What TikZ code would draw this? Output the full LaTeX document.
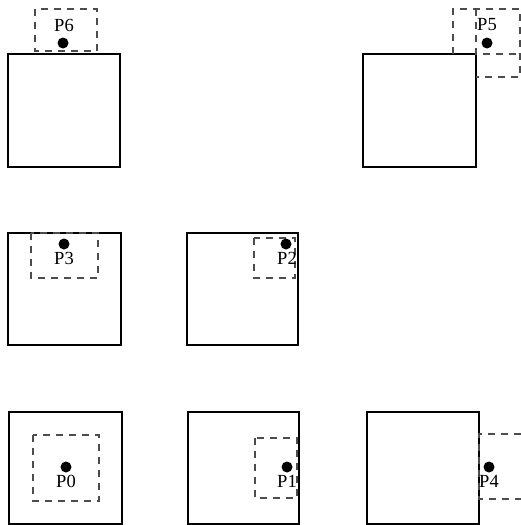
\documentclass[tikz,border=0pt]{standalone}
\usepackage{fontspec}
\setmainfont{Liberation Serif}
\begin{document}
\begin{tikzpicture}[x=1pt,y=-1pt,
  sq/.style={draw=black,line width=2pt},
  win/.style={draw=black!70,line width=1.2pt,dash pattern=on 7pt off 6pt},
  dot/.style={circle,fill=black,inner sep=0pt,minimum size=11pt},
  lbl/.style={font=\fontsize{18.5}{18.5}\selectfont,inner sep=0pt}]
\useasboundingbox (0,0) rectangle (521,525);
% squares
\draw[sq] (8,54) rectangle (120,167);
\draw[sq] (363,54) rectangle (476,167);
\draw[sq] (8,233) rectangle (121,345);
\draw[sq] (187,233) rectangle (298,345);
\draw[sq] (9,412) rectangle (122,524);
\draw[sq] (188,412) rectangle (299,524);
\draw[sq] (367,412) rectangle (479,524);
% dashed windows
\draw[win] (35,9) rectangle (97,51);
\draw[win] (453,54) -- (453,9) -- (520,9) -- (520,77) -- (476,77);
\draw[win] (476,9) -- (476,54) -- (520,54);
\draw[win] (31,233) rectangle (98,278);
\draw[win] (254,238) rectangle (295,278);
\draw[win] (33,435) rectangle (99,501);
\draw[win] (255,438) rectangle (297,498);
\draw[win] (521,434) -- (479,434) -- (479,499) -- (521,499);
% points
\node[dot] (d6) at (63,43) {};
\node[lbl] (p6) at (64,25) {P6};
\node[dot] (d5) at (487,43) {};
\node[lbl] (p5) at (487,25) {P5};
\node[dot] (d3) at (64,244) {};
\node[lbl] (p3) at (64,258) {P3};
\node[dot] (d2) at (286,244) {};
\node[lbl] (p2) at (287,258) {P2};
\node[dot] (d0) at (66,467) {};
\node[lbl] (p0) at (66,481) {P0};
\node[dot] (d1) at (287,467) {};
\node[lbl] (p1) at (287,481) {P1};
\node[dot] (d4) at (489,467) {};
\node[lbl] (p4) at (489,481) {P4};
\end{tikzpicture}
\end{document}
